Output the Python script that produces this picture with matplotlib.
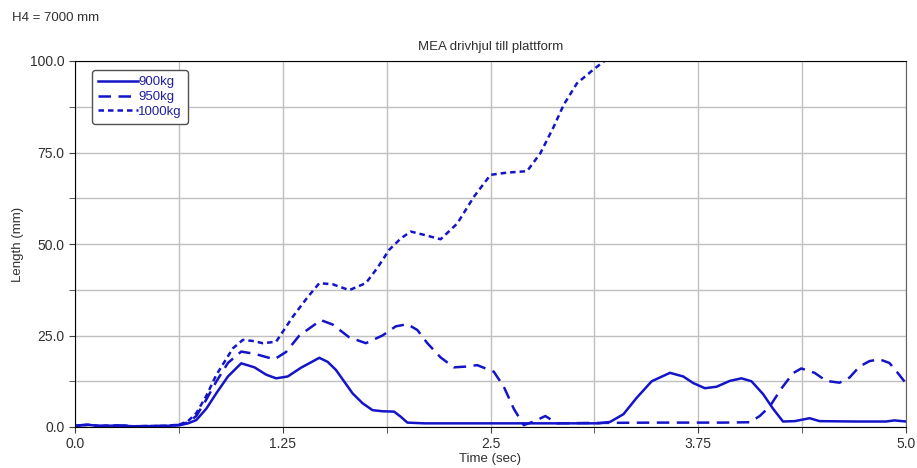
import numpy as np
import matplotlib
matplotlib.use("Agg")
import matplotlib.pyplot as plt

plt.rcParams['font.family'] = ['Liberation Sans', 'DejaVu Sans']

# values
t_900 = [0.0, 0.04, 0.08, 0.14, 0.27, 0.35, 0.55, 0.63, 0.68, 0.73, 0.79, 0.85, 0.92, 1.0, 1.08,
         1.15, 1.21, 1.28, 1.36, 1.47, 1.52, 1.57, 1.67, 1.73, 1.79, 1.85, 1.92, 1.96, 2.0, 2.1,
         2.5, 3.0, 3.15, 3.22, 3.3, 3.38, 3.47, 3.58, 3.66, 3.72, 3.79, 3.86, 3.94, 4.01, 4.07,
         4.14, 4.2, 4.26, 4.33, 4.42, 4.48, 4.7, 4.88, 4.93, 5.0]
y_900 = [0.3, 0.5, 0.6, 0.3, 0.4, 0.2, 0.3, 0.5, 1.0, 1.9, 5.0, 9.2, 13.8, 17.4, 16.3,
         14.3, 13.3, 13.8, 16.2, 18.9, 17.8, 15.6, 9.2, 6.5, 4.6, 4.3, 4.2, 2.8, 1.2, 1.0,
         1.0, 1.0, 1.0, 1.4, 3.5, 8.0, 12.5, 14.8, 13.8, 12.0, 10.6, 11.0, 12.6, 13.3, 12.5,
         9.0, 5.0, 1.5, 1.6, 2.4, 1.6, 1.5, 1.5, 1.8, 1.5]

t_950 = [0.0, 0.04, 0.08, 0.14, 0.27, 0.35, 0.55, 0.63, 0.68, 0.73, 0.79, 0.85, 0.92, 1.0, 1.08,
         1.2, 1.27, 1.35, 1.48, 1.55, 1.65, 1.75, 1.85, 1.93, 2.0, 2.06, 2.12, 2.2, 2.28,
         2.35, 2.42, 2.52, 2.58, 2.64, 2.7, 2.76, 2.83, 2.9, 3.1, 3.5, 3.9, 4.06, 4.12, 4.18,
         4.25, 4.32, 4.37, 4.45, 4.52, 4.6, 4.66, 4.72, 4.78, 4.84, 4.9, 4.95, 5.0]
y_950 = [0.3, 0.5, 0.6, 0.3, 0.4, 0.2, 0.3, 0.6, 1.3, 3.0, 7.5, 12.4, 17.5, 20.6, 20.0,
         18.5, 20.5, 25.0, 29.2, 28.0, 24.5, 22.9, 25.0, 27.5, 28.1, 26.5, 22.9, 19.0, 16.3,
         16.5, 16.9, 15.1, 11.0, 5.0, 0.5, 1.5, 3.0, 1.0, 1.1, 1.2, 1.2, 1.3, 3.0, 5.6,
         10.5, 14.7, 16.0, 14.8, 12.6, 12.1, 13.5, 16.5, 18.0, 18.5, 17.5, 14.8, 11.9]

t_1000 = [0.0, 0.04, 0.08, 0.14, 0.27, 0.35, 0.55, 0.63, 0.68, 0.73, 0.79, 0.85, 0.95, 1.01,
          1.07, 1.13, 1.21, 1.31, 1.4, 1.47, 1.55, 1.65, 1.75, 1.82, 1.89, 1.96, 2.02, 2.1,
          2.2, 2.3, 2.4, 2.5, 2.6, 2.72, 2.8, 2.88, 2.94, 3.02, 3.12, 3.2]
y_1000 = [0.3, 0.5, 0.6, 0.3, 0.4, 0.2, 0.3, 0.7, 1.6, 3.8, 8.5, 14.2, 21.5, 23.8,
          23.5, 22.9, 23.3, 30.1, 35.5, 39.3, 39.0, 37.4, 39.3, 43.5, 48.4, 51.5, 53.4, 52.5,
          51.3, 55.6, 62.9, 68.9, 69.5, 69.9, 74.8, 82.0, 88.0, 93.9, 97.7, 100.5]

labels = ['900kg', '950kg', '1000kg']
x_ticks = [0.0, 1.25, 2.5, 3.75, 5.0]
x_ticklabels = ['0.0', '1.25', '2.5', '3.75', '5.0']
y_ticks = [0.0, 25.0, 50.0, 75.0, 100.0]
y_ticklabels = ['0.0', '25.0', '50.0', '75.0', '100.0']

blue = '#1414c8'
fig = plt.figure(figsize=(9.17, 4.68), dpi=100)
ax = fig.add_axes([75 / 917, 41 / 468, 831 / 917, 366 / 468])

ax.plot(t_900, y_900, color=blue, lw=1.8, linestyle='-', label=labels[0])
ax.plot(t_950, y_950, color=blue, lw=1.8, linestyle=(0, (5, 3)), label=labels[1])
ax.plot(t_1000, y_1000, color=blue, lw=1.8, linestyle=(0, (2.2, 1.6)), label=labels[2])

ax.set_xlim(0, 5)
ax.set_ylim(0, 100)
ax.set_xticks(x_ticks)
ax.set_xticklabels(x_ticklabels)
ax.set_yticks(y_ticks)
ax.set_yticklabels(y_ticklabels)
ax.set_xticks(np.arange(0.625, 5, 1.25), minor=True)
ax.set_yticks(np.arange(12.5, 100, 25), minor=True)
ax.grid(True, which='both', color='#c0c0c0', lw=1)
ax.set_axisbelow(True)
ax.tick_params(which='both', direction='out', length=4, color='#404040',
               labelsize=10, labelcolor='#303030')

for s in ['left', 'bottom', 'top']:
    ax.spines[s].set_color('black')
ax.spines['right'].set_color('#606060')

ax.set_title('MEA drivhjul till plattform', fontsize=9.5, color='#303030', pad=8)
ax.set_xlabel('Time (sec)', fontsize=9.5, color='#303030', labelpad=1)
ax.set_ylabel('Length (mm)', fontsize=9.5, color='#303030', labelpad=4)
fig.text(12 / 917, 1 - 18 / 468, 'H4 = 7000 mm', fontsize=9.5, color='#303030', va='center')

leg = ax.legend(loc='upper left', bbox_to_anchor=(0.0205, 0.975), fontsize=9.5,
                handlelength=3.0, handletextpad=0.05, labelspacing=0.2,
                borderpad=0.45, borderaxespad=0, frameon=True, fancybox=True, framealpha=1)
leg.get_frame().set_edgecolor('#505050')
for txt in leg.get_texts():
    txt.set_color('#2020a0')

fig.savefig('out.png', dpi=100)
